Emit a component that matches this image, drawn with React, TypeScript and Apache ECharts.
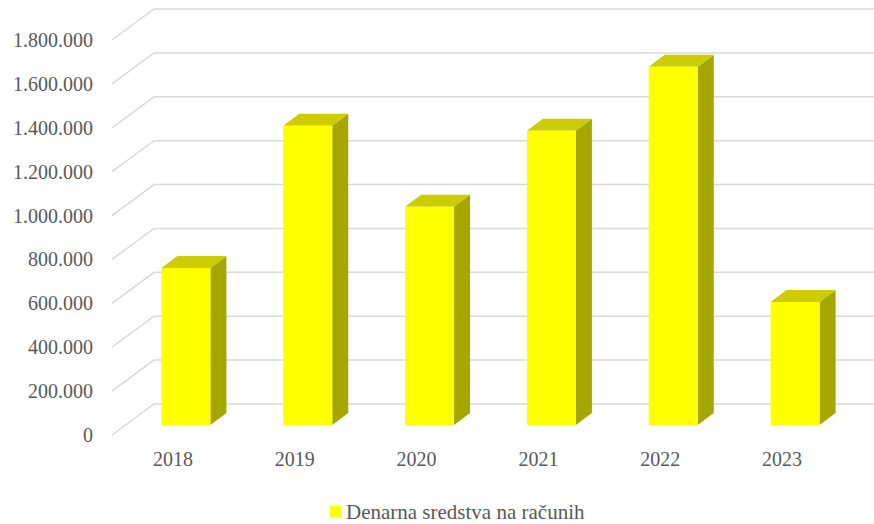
import React, { useEffect, useRef } from "react";
import * as echarts from "echarts";

const categories = ["2018", "2019", "2020", "2021", "2022", "2023"];
const values = [715000, 1364000, 995000, 1341000, 1633000, 560000];
const yTicks = [0, 200000, 400000, 600000, 800000, 1000000, 1200000, 1400000, 1600000, 1800000];
const seriesName = "Denarna sredstva na računih";

function fmt(v: number): string {
  return String(Math.round(v)).replace(/\B(?=(\d{3})+(?!\d))/g, ".");
}

export default function App() {
  const ref = useRef<HTMLDivElement>(null);
  useEffect(() => {
    document.body.style.margin = "0";
    if (!ref.current) return;
    const chart = echarts.init(ref.current, null, { renderer: "svg" });
    const font = "Liberation Serif";
    const depthX = 42;
    const depthY = -31;
    const frontX = 13;
    const frontY = -10;
    const barDX = 16;
    const barDY = -12;
    chart.setOption({
      animation: false,
      backgroundColor: "#ffffff",
      textStyle: { fontFamily: font },
      grid: { left: 112, right: 31, top: 40, bottom: 89, containLabel: false },
      legend: {
        show: true,
        left: 330,
        top: 501,
        padding: 0,
        itemWidth: 11,
        itemHeight: 11,
        itemGap: 10,
        data: [{ name: seriesName, icon: "rect", itemStyle: { color: "#ffff00" } }],
        textStyle: { fontFamily: font, fontSize: 21, lineHeight: 21, color: "#595959", padding: [0, 0, 0, 0] },
      },
      xAxis: {
        type: "category",
        data: categories,
        axisLine: { show: false },
        axisTick: { show: false },
        splitLine: { show: false },
        axisLabel: { margin: 14, fontFamily: font, fontSize: 20, color: "#595959" },
      },
      yAxis: {
        type: "value",
        min: 0,
        max: 1800000,
        interval: 200000,
        axisLine: { show: false },
        axisTick: { show: false },
        splitLine: { show: false },
        axisLabel: {
          margin: 19,
          fontFamily: font,
          fontSize: 20,
          color: "#595959",
          formatter: (v: number) => fmt(v),
        },
      },
      series: [
        {
          type: "custom",
          name: "grid",
          z: 1,
          silent: true,
          data: yTicks.map((t) => [0, t]),
          renderItem: (params: any, api: any) => {
            const y = api.coord([0, api.value(1)])[1];
            const cs = params.coordSys;
            const x0 = cs.x;
            return {
              type: "polyline",
              shape: {
                points: [
                  [x0, y],
                  [x0 + depthX, y + depthY],
                  [cs.x + cs.width + depthX + 20, y + depthY],
                ],
              },
              style: { stroke: "#d9d9d9", lineWidth: 1.5, fill: "none" },
            };
          },
        },
        {
          type: "custom",
          name: seriesName,
          z: 3,
          itemStyle: { color: "#ffff00" },
          data: values.map((v, i) => [i, v]),
          renderItem: (params: any, api: any) => {
            const i = api.value(0);
            const top = api.coord([i, api.value(1)]);
            const base = api.coord([i, 0]);
            const band = api.size([1, 0])[0];
            const w = band * 0.402;
            const xl = top[0] - w / 2 + frontX;
            const xr = xl + w;
            const yt = top[1] + frontY;
            const yb = base[1] + frontY;
            return {
              type: "group",
              children: [
                {
                  type: "polygon",
                  shape: {
                    points: [
                      [xr, yt],
                      [xr + barDX, yt + barDY],
                      [xr + barDX, yb + barDY],
                      [xr, yb],
                    ],
                  },
                  style: { fill: "#a6a600" },
                },
                {
                  type: "polygon",
                  shape: {
                    points: [
                      [xl, yt],
                      [xl + barDX, yt + barDY],
                      [xr + barDX, yt + barDY],
                      [xr, yt],
                    ],
                  },
                  style: { fill: "#cccc00" },
                },
                {
                  type: "rect",
                  shape: { x: xl, y: yt, width: w, height: yb - yt },
                  style: { fill: "#ffff00" },
                },
              ],
            };
          },
        },
      ],
    });
    return () => chart.dispose();
  }, []);
  return <div ref={ref} style={{ width: 874, height: 524 }} />;
}
